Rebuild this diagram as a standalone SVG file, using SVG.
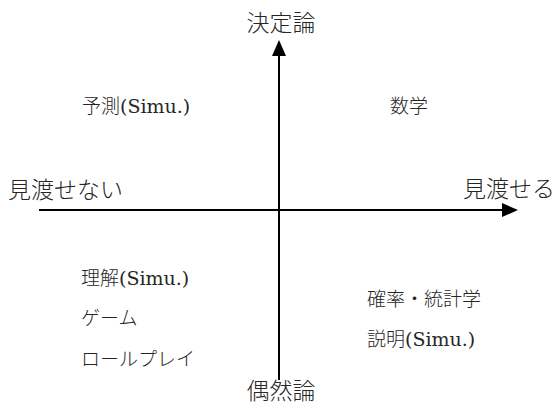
<svg xmlns="http://www.w3.org/2000/svg" width="554" height="414" viewBox="0 0 554 414">
<style>
text{font-family:"DejaVu Serif","Noto Sans CJK JP",serif;fill:#262626;font-weight:300}
.big{font-size:23px}
.sm{font-size:19px}
.axis{stroke:#000;stroke-width:2;fill:none}
</style>
<defs>
<marker id="ah" viewBox="0 0 16 14" refX="0" refY="7" markerWidth="16" markerHeight="14" markerUnits="userSpaceOnUse" orient="auto">
<path d="M0,0 L16,7 L0,14 Z" fill="#000"/>
</marker>
</defs>
<rect width="554" height="414" fill="#fff"/>
<g id="connectors">
<line class="axis" x1="279" y1="380" x2="279" y2="56" marker-end="url(#ah)"/>
<line class="axis" x1="39" y1="210" x2="502" y2="210" marker-end="url(#ah)"/>
</g>
<g id="top"><text class="big" x="281" y="31" text-anchor="middle">決定論</text></g>
<g id="bottom"><text class="big" x="281" y="399" text-anchor="middle">偶然論</text></g>
<g id="left"><text class="big" x="8" y="198">見渡せない</text></g>
<g id="right"><text class="big" x="463" y="197">見渡せる</text></g>
<g id="q2"><text class="sm" x="82" y="113">予測(Simu.)</text></g>
<g id="q1"><text class="sm" x="390" y="113">数学</text></g>
<g id="q3">
<text class="sm" x="81" y="285">理解(Simu.)</text>
<text class="sm" x="81" y="325">ゲーム</text>
<text class="sm" x="81" y="366">ロールプレイ</text>
</g>
<g id="q4">
<text class="sm" x="367" y="306">確率・統計学</text>
<text class="sm" x="367" y="346">説明(Simu.)</text>
</g>
</svg>
